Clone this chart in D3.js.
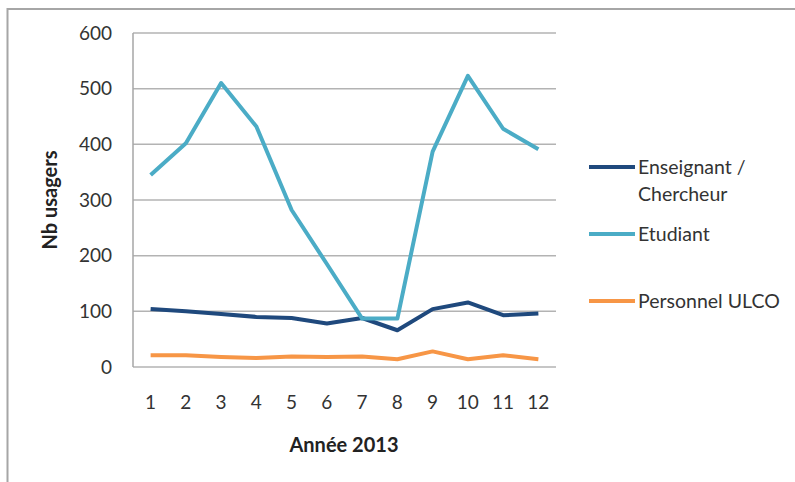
<!DOCTYPE html>
<html>
<head>
<meta charset="utf-8">
<script src="https://cdn.jsdelivr.net/npm/d3@7"></script>
<style>
  html, body { margin: 0; padding: 0; background: #fff; }
  svg { display: block; font-family: Lato, "Open Sans", sans-serif; }
</style>
</head>
<body>
<svg id="chart" width="795" height="482"></svg>
<script>
const months = [1, 2, 3, 4, 5, 6, 7, 8, 9, 10, 11, 12];
const enseignant = [104, 100, 95, 90, 88, 78, 88, 66, 104, 116, 93, 96];
const etudiant = [345, 402, 510, 432, 282, 185, 87, 87, 387, 523, 428, 391];
const personnel = [21, 21, 18, 16, 19, 18, 19, 14, 28, 14, 21, 14];
const yTicks = [0, 100, 200, 300, 400, 500, 600];
const seriesNames = [["Enseignant /", "Chercheur"], ["Etudiant"], ["Personnel ULCO"]];
const seriesColors = ["#1F497D", "#4BACC6", "#F79646"];
const xTitle = "Année 2013";
const yTitle = "Nb usagers";

(function () {
const svg = d3.select("#chart");

// outer frame
svg.append("rect")
  .attr("x", 7.5).attr("y", 9).attr("width", 900).attr("height", 600)
  .attr("fill", "#fff").attr("stroke", "#a6a6a6").attr("stroke-width", 2);

const pLeft = 133, pRight = 556, pTop = 33, pBottom = 367;
const x = d3.scaleBand().domain(months).range([pLeft, pRight]);
const y = d3.scaleLinear().domain([0, 600]).range([pBottom, pTop]);
const cx = d => x(d) + x.bandwidth() / 2;

// gridlines
svg.append("g").selectAll("line").data(yTicks).join("line")
  .attr("x1", pLeft).attr("x2", pRight)
  .attr("y1", d => y(d)).attr("y2", d => y(d))
  .attr("stroke", "#b3b3b3").attr("stroke-width", 1.5);

// left axis line
svg.append("line")
  .attr("x1", pLeft).attr("x2", pLeft).attr("y1", pTop).attr("y2", pBottom)
  .attr("stroke", "#a6a6a6").attr("stroke-width", 1.5);

// y tick labels
svg.append("g").selectAll("text").data(yTicks).join("text")
  .attr("x", 112).attr("y", d => y(d)).attr("dy", "0.35em")
  .attr("text-anchor", "end").attr("font-size", 19).attr("fill", "#333")
  .text(d => d);

// x tick labels
svg.append("g").selectAll("text").data(months).join("text")
  .attr("x", d => cx(d)).attr("y", 409)
  .attr("text-anchor", "middle").attr("font-size", 19).attr("fill", "#333")
  .text(d => d);

// axis titles
svg.append("text").attr("x", 344).attr("y", 452)
  .attr("text-anchor", "middle").attr("font-size", 20).attr("font-weight", "bold")
  .attr("fill", "#222").text(xTitle);
svg.append("text").attr("transform", "translate(57,200) rotate(-90)")
  .attr("text-anchor", "middle").attr("font-size", 20).attr("font-weight", "bold")
  .attr("fill", "#222").text(yTitle);

// lines
const line = d3.line().x((d, i) => cx(months[i])).y(d => y(d));
const allSeries = [enseignant, etudiant, personnel];
allSeries.forEach((s, i) => {
  svg.append("path").datum(s)
    .attr("d", line).attr("fill", "none")
    .attr("stroke", seriesColors[i]).attr("stroke-width", 4)
    .attr("stroke-linejoin", "round");
});

// legend
const legendY = [167, 234, 301];
const leg = svg.append("g");
seriesNames.forEach((names, i) => {
  leg.append("line")
    .attr("x1", 589).attr("x2", 635).attr("y1", legendY[i]).attr("y2", legendY[i])
    .attr("stroke", seriesColors[i]).attr("stroke-width", 4);
  names.forEach((t, j) => {
    leg.append("text")
      .attr("x", 638).attr("y", legendY[i] + 6.5 + j * 27)
      .attr("font-size", 19.5).attr("fill", "#333").text(t);
  });
});
})();
</script>
</body>
</html>
